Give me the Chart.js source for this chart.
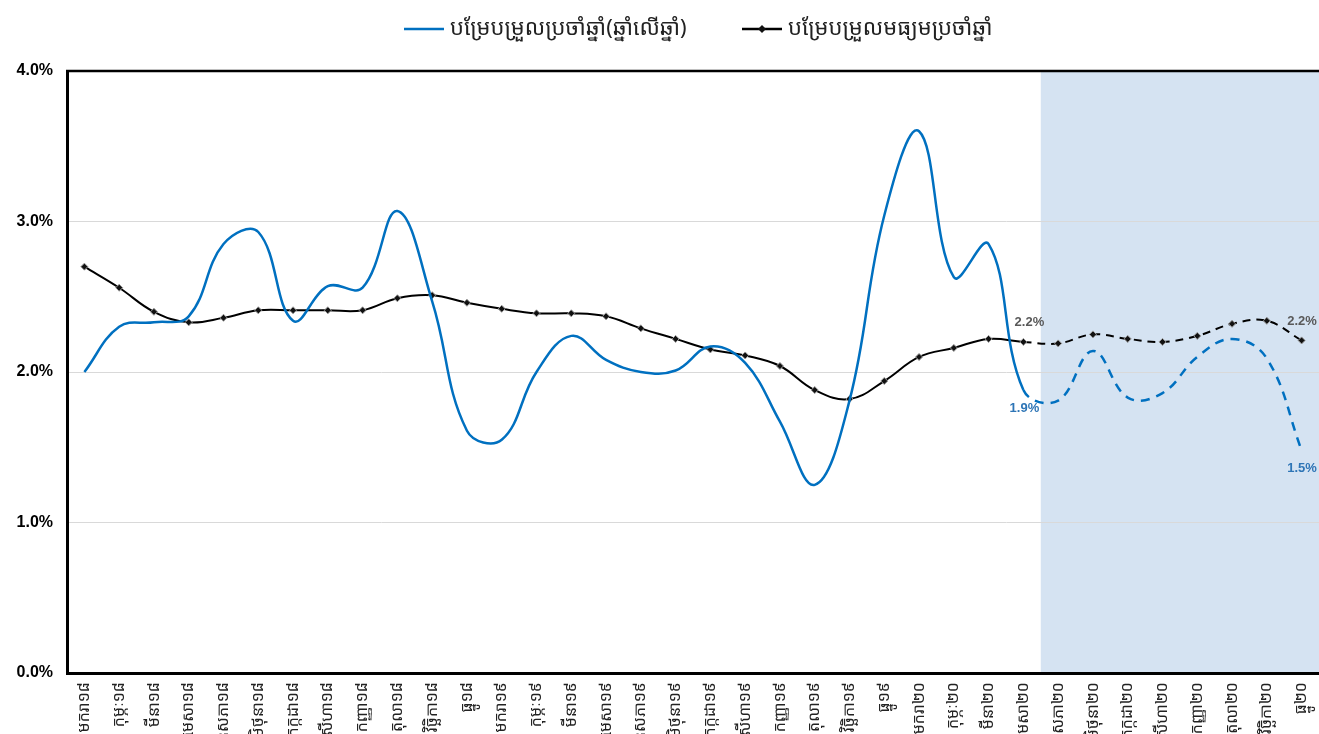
<!DOCTYPE html>
<html lang="km">
<head>
    <meta charset="UTF-8">
    <title>Inflation Chart</title>
    <script src="https://cdn.jsdelivr.net/npm/chart.js"></script>
    <style>
        * {
            margin: 0;
            padding: 0;
            box-sizing: border-box;
        }

        html, body {
            width: 1319px;
            height: 734px;
            overflow: hidden;
            background: #fff;
        }

        /* taller than the window: the rotated month labels are cut at the bottom, as in the original */
        .chart-wrap {
            position: relative;
            width: 1319px;
            height: 800px;
        }
    </style>
</head>
<body>
    <div class="chart-wrap">
        <canvas id="cpi-chart"></canvas>
    </div>

    <script>
        // x axis: Khmer months for 2018-2020
        const months = ['មករា', 'កុម្ភៈ', 'មីនា', 'មេសា', 'ឧសភា', 'មិថុនា', 'កក្កដា', 'សីហា', 'កញ្ញា', 'តុលា', 'វិច្ឆិកា', 'ធ្នូ'];
        const years = ['១៨', '១៩', '២០'];
        const labels = years.flatMap(y => months.map(m => m + y));

        // year on year change (%)
        const yoyValues = [2.00, 2.30, 2.33, 2.37, 2.85, 2.93, 2.34, 2.57, 2.56, 3.07, 2.47, 1.61,
                           1.55, 2.00, 2.24, 2.08, 2.00, 2.01, 2.17, 2.06, 1.67, 1.25, 1.81, 3.04,
                           3.60, 2.63, 2.85, 1.88, 1.81, 2.14, 1.83, 1.86, 2.10, 2.22, 2.09, 1.48];

        // 12 month average change (%)
        const avgValues = [2.70, 2.56, 2.40, 2.33, 2.36, 2.41, 2.41, 2.41, 2.41, 2.49, 2.51, 2.46,
                           2.42, 2.39, 2.39, 2.37, 2.29, 2.22, 2.15, 2.11, 2.04, 1.88, 1.82, 1.94,
                           2.10, 2.16, 2.22, 2.20, 2.19, 2.25, 2.22, 2.20, 2.24, 2.32, 2.34, 2.21];

        const yTicks = [0, 1, 2, 3, 4];
        const forecastFrom = 27;          // dashed part starts at this point
        const labelledPoints = [27, 35];  // points that carry a value label

        const legendNames = ['បម្រែបម្រួលប្រចាំឆ្នាំ(ឆ្នាំលើឆ្នាំ)', 'បម្រែបម្រួលមធ្យមប្រចាំឆ្នាំ'];

        const BLUE = '#0070c0';
        const KHMER_FONT = "'Noto Sans Khmer', 'Khmer OS', 'Khmer OS System', 'Noto Sans', sans-serif";

        const dashAfter = (dash) => (ctx) => ctx.p0DataIndex >= forecastFrom ? dash : undefined;

        // shaded forecast area + top frame line
        const backdropPlugin = {
            id: 'backdrop',
            beforeDraw(chart) {
                const { ctx, chartArea, scales } = chart;
                const x0 = scales.x.getPixelForValue(forecastFrom + 0.5);
                ctx.save();
                ctx.fillStyle = '#d5e3f2';
                ctx.fillRect(x0, chartArea.top, chartArea.right - x0, chartArea.bottom - chartArea.top);
                ctx.restore();
            },
            afterDraw(chart) {
                const { ctx, chartArea } = chart;
                ctx.save();
                ctx.strokeStyle = '#000';
                ctx.lineWidth = 2.5;
                ctx.beginPath();
                ctx.moveTo(chartArea.left - 1, chartArea.top);
                ctx.lineTo(chartArea.right, chartArea.top);
                ctx.stroke();
                ctx.restore();
            }
        };

        // value labels on the last actual and last forecast point
        const valueLabelPlugin = {
            id: 'valueLabels',
            afterDatasetsDraw(chart) {
                const ctx = chart.ctx;
                ctx.save();
                ctx.font = 'bold 13px "Liberation Sans", Arial, sans-serif';
                ctx.textAlign = 'center';
                ctx.textBaseline = 'middle';
                labelledPoints.forEach(i => {
                    const pAvg = chart.getDatasetMeta(1).data[i];
                    const pYoy = chart.getDatasetMeta(0).data[i];
                    ctx.fillStyle = '#595959';
                    ctx.fillText(avgValues[i].toFixed(1) + '%', Math.min(pAvg.x + 6, chart.width - 17), pAvg.y - 19);
                    ctx.fillStyle = '#2e75b6';
                    ctx.fillText(yoyValues[i].toFixed(1) + '%', Math.min(pYoy.x + 1, chart.width - 17), pYoy.y + 18);
                });
                ctx.restore();
            }
        };

        // legend drawn by hand: plain line + line with diamond marker
        const legendPlugin = {
            id: 'customLegend',
            afterDraw(chart) {
                const ctx = chart.ctx;
                const y = 29;
                ctx.save();
                ctx.font = '22px ' + KHMER_FONT;
                ctx.textBaseline = 'middle';
                ctx.fillStyle = '#222';

                ctx.strokeStyle = BLUE;
                ctx.lineWidth = 2.5;
                ctx.beginPath();
                ctx.moveTo(404, y);
                ctx.lineTo(444, y);
                ctx.stroke();
                ctx.fillText(legendNames[0], 450, y);

                ctx.strokeStyle = '#000';
                ctx.beginPath();
                ctx.moveTo(742, y);
                ctx.lineTo(782, y);
                ctx.stroke();
                ctx.fillStyle = '#111';
                ctx.beginPath();
                ctx.moveTo(762, y - 4);
                ctx.lineTo(766, y);
                ctx.lineTo(762, y + 4);
                ctx.lineTo(758, y);
                ctx.closePath();
                ctx.fill();
                ctx.fillStyle = '#222';
                ctx.fillText(legendNames[1], 788, y);
                ctx.restore();
            }
        };

        new Chart(document.getElementById('cpi-chart'), {
            type: 'line',
            data: {
                labels: labels,
                datasets: [{
                    label: legendNames[0],
                    data: yoyValues,
                    borderColor: BLUE,
                    borderWidth: 2.5,
                    pointRadius: 0,
                    tension: 0.4,
                    segment: { borderDash: dashAfter([9, 7]) }
                }, {
                    label: legendNames[1],
                    data: avgValues,
                    borderColor: '#000',
                    borderWidth: 2,
                    pointStyle: 'rectRot',
                    pointRadius: 3.5,
                    pointBackgroundColor: '#111',
                    pointBorderColor: '#999',
                    pointBorderWidth: 1,
                    tension: 0.4,
                    segment: { borderDash: dashAfter([8, 6]) }
                }]
            },
            options: {
                responsive: true,
                maintainAspectRatio: false,
                animation: false,
                layout: {
                    autoPadding: false,
                    padding: { top: 71, right: 0, left: 0, bottom: 0 }
                },
                plugins: {
                    legend: { display: false },
                    tooltip: { enabled: false }
                },
                scales: {
                    x: {
                        offset: true,
                        grid: { display: false, drawTicks: false },
                        border: { color: '#000', width: 3 },
                        ticks: {
                            minRotation: 90,
                            maxRotation: 90,
                            autoSkip: false,
                            padding: 9,
                            color: '#222',
                            font: { family: KHMER_FONT, size: 16 }
                        },
                        afterFit(scale) {
                            // plot runs right up to the edge of the picture
                            scale.height = 127;
                            scale.paddingRight = 0;
                            scale.paddingLeft = 0;
                        }
                    },
                    y: {
                        min: yTicks[0],
                        max: yTicks[yTicks.length - 1],
                        afterBuildTicks(scale) { scale.ticks = yTicks.map(v => ({ value: v })); },
                        grid: { color: '#d9d9d9', lineWidth: 1, drawTicks: false },
                        border: { color: '#000', width: 3 },
                        ticks: {
                            padding: 14,
                            color: '#000',
                            font: { family: "'Liberation Sans', Arial, sans-serif", size: 16, weight: 'bold' },
                            callback: v => v.toFixed(1) + '%'
                        },
                        afterFit(scale) { scale.width = 67; }
                    }
                }
            },
            plugins: [backdropPlugin, valueLabelPlugin, legendPlugin]
        });
    </script>
</body>
</html>
